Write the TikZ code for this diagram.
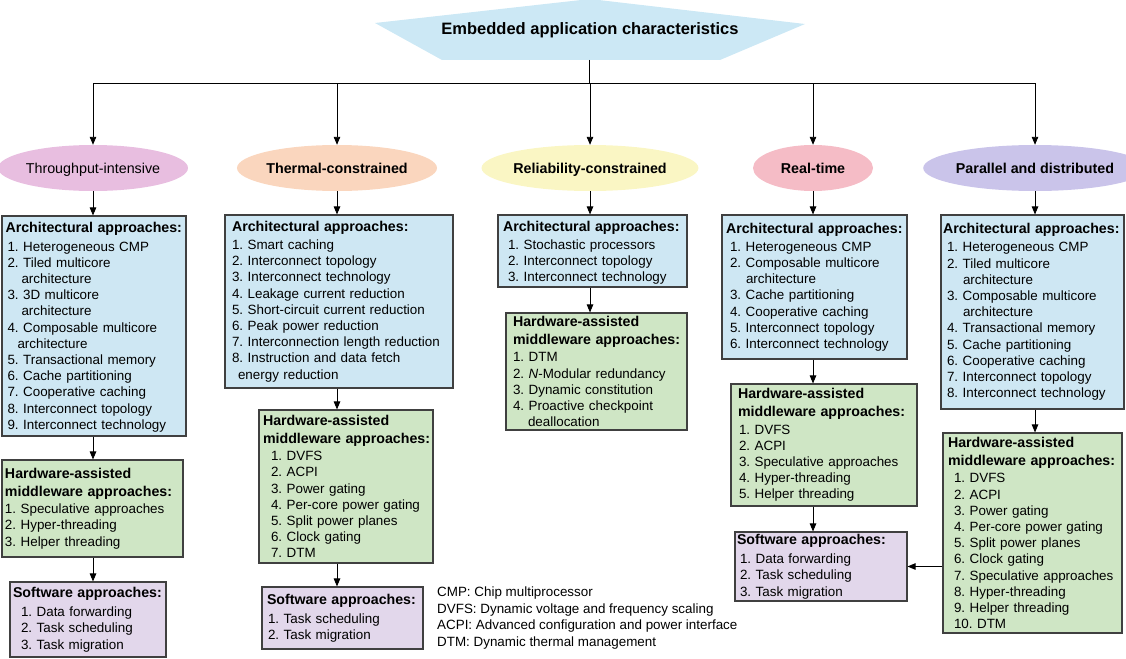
\documentclass[tikz,border=0pt]{standalone}
\usepackage{fontspec}
\setmainfont{Liberation Sans}
\usetikzlibrary{arrows.meta,shapes.geometric,calc}

\definecolor{bluebox}{RGB}{206,231,243}
\definecolor{greenbox}{RGB}{207,230,197}
\definecolor{purplebox}{RGB}{226,215,235}
\definecolor{edgecol}{RGB}{64,64,64}
\definecolor{titlefill}{RGB}{204,232,245}
\definecolor{ellA}{RGB}{232,190,224}
\definecolor{ellB}{RGB}{250,214,190}
\definecolor{ellC}{RGB}{250,246,196}
\definecolor{ellD}{RGB}{245,188,198}
\definecolor{ellE}{RGB}{202,196,234}

\newlength{\itind}
\newcommand{\hd}[1]{\mbox{\bfseries\fontsize{14.2}{16.2}\selectfont #1}}
\newcommand{\li}[1]{\mbox{\hspace*{\itind}#1}}
\newcommand{\lc}[2][14pt]{\mbox{\hspace*{\dimexpr\itind+#1\relax}#2}}

\begin{document}
\frenchspacing
\begin{tikzpicture}[x=1pt,y=-1pt,
  arr/.style={-{Triangle[length=8pt,width=6.5pt]}, line width=0.9pt},
  bx/.style={draw=edgecol, line width=1.1pt, align=left, inner xsep=0pt, inner ysep=0pt,
    font=\frenchspacing\fontsize{13.4}{16.2}\selectfont},
  arch/.style={bx, fill=bluebox},
  hw/.style={bx, fill=greenbox},
  sw/.style={bx, fill=purplebox},
  ell/.style={ellipse, inner sep=0pt, minimum height=46pt, text height=11pt, text depth=1pt,
    font=\bfseries\fontsize{14.3}{16}\selectfont}]
\useasboundingbox (0,0) rectangle (1126,658);

% title
\fill[titlefill] (375,23) -- (590,-1) -- (805,24) -- (720,60) -- (442,60) -- cycle;
\node[font=\bfseries\fontsize{16.5}{18}\selectfont] (title) at (590,30) {Embedded application characteristics};
\coordinate (tb) at (589,60);
\coordinate (bar) at (589,83);

% ellipses
\node[ell, fill=ellA, minimum width=170pt, font=\fontsize{14.3}{16}\selectfont] (e1) at (93,168) {Throughput-intensive};
\node[ell, fill=ellB, minimum width=175pt] (e2) at (337,168) {Thermal-constrained};
\node[ell, fill=ellC, minimum width=175pt] (e3) at (590,168) {Reliability-constrained};
\node[ell, fill=ellD, minimum width=120pt] (e4) at (813,168) {Real-time};
\node[ell, fill=ellE, minimum width=170pt] (e5) at (1035,168) {Parallel and distributed};

% column 1
\node[arch, minimum width=184pt, minimum height=220pt, text width=177pt] (a1) at (94,326) {%
\setlength{\itind}{2pt}\hd{\rule{0pt}{13pt}Architectural approaches:}\\[2pt]
\li{1. Heterogeneous CMP}\\
\li{2. Tiled multicore}\\
\lc{architecture}\\
\li{3. 3D multicore}\\
\lc{architecture}\\
\li{4. Composable multicore}\\
\lc[10pt]{architecture}\\
\li{5. Transactional memory}\\
\li{6. Cache partitioning}\\
\li{7. Cooperative caching}\\
\li{8. Interconnect topology}\\
\li{9. Interconnect technology}};

\node[hw, minimum width=181pt, minimum height=97pt, text width=175pt] (h1) at (92.5,508.5) {%
\setlength{\itind}{0pt}\hd{Hardware-assisted}\\[2pt]
\hd{middleware approaches:}\\[1pt]
\li{1. Speculative approaches}\\
\li{2. Hyper-threading}\\
\li{3. Helper threading}};

\node[sw, minimum width=156pt, minimum height=75pt, text width=150pt] (s1) at (88,619.5) {%
\setlength{\itind}{8pt}\hd{Software approaches:}\\[3pt]
\li{1. Data forwarding}\\
\li{2. Task scheduling}\\
\li{3. Task migration}};

% column 2
\node[arch, minimum width=228pt, minimum height=173pt, text width=214pt] (a2) at (339,301.5) {%
\setlength{\itind}{0pt}\hd{Architectural approaches:}\\[2pt]
\li{1. Smart caching}\\
\li{2. Interconnect topology}\\
\li{3. Interconnect technology}\\
\li{4. Leakage current reduction}\\
\li{5. Short-circuit current reduction}\\
\li{6. Peak power reduction}\\
\li{7. Interconnection length reduction}\\
\li{8. Instruction and data fetch}\\
\lc[6pt]{energy reduction}};

\node[hw, minimum width=174pt, minimum height=153pt, text width=166pt] (h2) at (346,486.5) {%
\setlength{\itind}{8pt}\hd{Hardware-assisted}\\[2pt]
\hd{middleware approaches:}\\[1pt]
\li{1. DVFS}\\
\li{2. ACPI}\\
\li{3. Power gating}\\
\li{4. Per-core power gating}\\
\li{5. Split power planes}\\
\li{6. Clock gating}\\
\li{7. DTM}};

\node[sw, minimum width=161pt, minimum height=62pt, text width=151pt] (s2) at (342.5,618) {%
\setlength{\itind}{1pt}\hd{Software approaches:}\\[3pt]
\li{1. Task scheduling}\\
\li{2. Task migration}};

% column 3
\node[arch, minimum width=189pt, minimum height=72pt, text width=179pt] (a3) at (592.5,251) {%
\setlength{\itind}{5pt}\hd{\rule{0pt}{14pt}Architectural approaches:}\\[2pt]
\li{1. Stochastic processors}\\
\li{2. Interconnect topology}\\
\li{3. Interconnect technology}};

\node[hw, minimum width=181pt, minimum height=117pt, text width=167pt] (h3) at (596.5,371.5) {%
\setlength{\itind}{0pt}\hd{Hardware-assisted}\\[2pt]
\hd{middleware approaches:}\\[1pt]
\li{1. DTM}\\
\li{2. \textit{N}-Modular redundancy}\\
\li{3. Dynamic constitution}\\
\li{4. Proactive checkpoint}\\
\lc[15pt]{deallocation}};

% column 4
\node[arch, minimum width=185pt, minimum height=144pt, text width=177pt] (a4) at (814.5,287) {%
\setlength{\itind}{4pt}\hd{Architectural approaches:}\\[2pt]
\li{1. Heterogeneous CMP}\\
\li{2. Composable multicore}\\
\lc[16pt]{architecture}\\
\li{3. Cache partitioning}\\
\li{4. Cooperative caching}\\
\li{5. Interconnect topology}\\
\li{6. Interconnect technology}};

\node[hw, minimum width=186pt, minimum height=122pt, text width=172pt] (h4) at (824,445) {%
\setlength{\itind}{1pt}\hd{Hardware-assisted}\\[2pt]
\hd{middleware approaches:}\\[1pt]
\li{1. DVFS}\\
\li{2. ACPI}\\
\li{3. Speculative approaches}\\
\li{4. Hyper-threading}\\
\li{5. Helper threading}};

\node[sw, minimum width=172pt, minimum height=69pt, text width=168pt] (s4) at (821,566.5) {%
\setlength{\itind}{3pt}\hd{Software approaches:}\\[3pt]
\li{1. Data forwarding}\\
\li{2. Task scheduling}\\
\li{3. Task migration}};

% column 5
\node[arch, minimum width=183pt, minimum height=194pt, text width=179pt] (a5) at (1032.5,312) {%
\setlength{\itind}{4pt}\hd{Architectural approaches:}\\[2pt]
\li{1. Heterogeneous CMP}\\
\li{2. Tiled multicore}\\
\lc[16pt]{architecture}\\
\li{3. Composable multicore}\\
\lc[16pt]{architecture}\\
\li{4. Transactional memory}\\
\li{5. Cache partitioning}\\
\li{6. Cooperative caching}\\
\li{7. Interconnect topology}\\
\li{8. Interconnect technology}};

\node[hw, minimum width=179pt, minimum height=200pt, text width=169pt] (h5) at (1032.5,533) {%
\setlength{\itind}{6pt}\hd{Hardware-assisted}\\[2pt]
\hd{middleware approaches:}\\[1pt]
\li{1. DVFS}\\
\li{2. ACPI}\\
\li{3. Power gating}\\
\li{4. Per-core power gating}\\
\li{5. Split power planes}\\
\li{6. Clock gating}\\
\li{7. Speculative approaches}\\
\li{8. Hyper-threading}\\
\li{9. Helper threading}\\
\li{10. DTM}};

% legend
\node[anchor=north west, align=left, inner sep=0pt, font=\frenchspacing\fontsize{13.4}{16.4}\selectfont] (legend) at (437,587) {%
CMP: Chip multiprocessor\\
DVFS: Dynamic voltage and frequency scaling\\
ACPI: Advanced configuration and power interface\\
DTM: Dynamic thermal management};

% connectors
\draw[line width=0.9pt] (tb) -- (bar);
\foreach \e in {e1,e2,e3,e4,e5} {
  \draw[arr] (bar) -| (\e.north);
}
\draw[arr] (e1) -- (e1 |- a1.north);
\draw[arr] (a1.south -| e1) -- (e1 |- h1.north);
\draw[arr] (h1.south -| e1) -- (e1 |- s1.north);
\draw[arr] (e2) -- (e2 |- a2.north);
\draw[arr] (a2.south -| e2) -- (e2 |- h2.north);
\draw[arr] (h2.south -| e2) -- (e2 |- s2.north);
\draw[arr] (e3) -- (e3 |- a3.north);
\draw[arr] (a3.south -| e3) -- (e3 |- h3.north);
\draw[arr] (e4) -- (e4 |- a4.north);
\draw[arr] (a4.south -| e4) -- (e4 |- h4.north);
\draw[arr] (h4.south -| e4) -- (e4 |- s4.north);
\draw[arr] (e5) -- (e5 |- a5.north);
\draw[arr] (a5.south -| e5) -- (e5 |- h5.north);
\draw[arr] (h5.west |- s4.east) -- (s4.east);
\end{tikzpicture}
\end{document}
